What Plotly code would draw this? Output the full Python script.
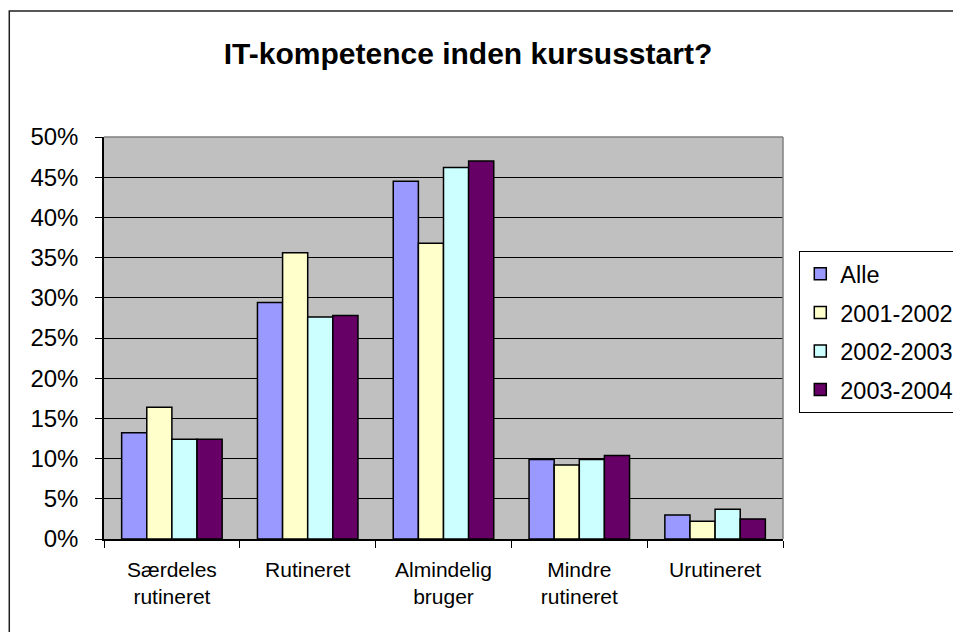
import plotly.graph_objects as go

categories = ["Særdeles<br>rutineret", "Rutineret", "Almindelig<br>bruger", "Mindre<br>rutineret", "Urutineret"]
series_names = ["Alle", "2001-2002", "2002-2003", "2003-2004"]
alle = [0.132, 0.294, 0.445, 0.099, 0.030]
y2001_2002 = [0.164, 0.356, 0.368, 0.092, 0.022]
y2002_2003 = [0.124, 0.276, 0.462, 0.099, 0.037]
y2003_2004 = [0.124, 0.278, 0.470, 0.104, 0.025]
colors = ["#9999FF", "#FFFFCC", "#CCFFFF", "#660066"]

FONT = "Liberation Sans, Arial, sans-serif"

fig = go.Figure()
for name, vals, col in zip(series_names, [alle, y2001_2002, y2002_2003, y2003_2004], colors):
    fig.add_trace(go.Bar(
        x=categories, y=vals, name=name, legendgroup=name,
        marker=dict(color=col, line=dict(color="black", width=1.5)),
    ))

# the page body adds an 8px margin, so figure coordinates are page coordinates - 8
OFF = 8
L, R, T, B = 103.5 - OFF, 782.7 - OFF, 137 - OFF, 538.7 - OFF
W, H = 961 - 2 * OFF, 640 - 2 * OFF
pw, ph = R - L, B - T

fig.update_layout(
    width=W, height=H,
    margin=dict(l=L, r=W - R, t=T, b=H - B, pad=0, autoexpand=False),
    paper_bgcolor="white",
    plot_bgcolor="#C0C0C0",
    barmode="group",
    bargap=0.26,
    bargroupgap=0,
    font=dict(family=FONT, color="black"),
    title=dict(
        text="<b>IT-kompetence inden kursusstart?</b>",
        font=dict(family=FONT, size=30, color="black"),
        x=(468 - OFF) / W, xanchor="center", xref="container",
        y=1 - (53 - OFF) / H, yanchor="middle", yref="container",
    ),
    legend=dict(
        x=(799 - OFF - L) / pw, y=(B - (251 - OFF)) / ph, xanchor="left", yanchor="top",
        bordercolor="black", borderwidth=1, bgcolor="white",
        font=dict(family=FONT, size=23.5, color="black"),
        tracegroupgap=5,
        itemclick=False,
    ),
    showlegend=True,
    xaxis=dict(
        showline=True, linecolor="black", linewidth=1.5,
        ticks="outside", tickson="boundaries", ticklen=7, tickcolor="black",
        tickfont=dict(family=FONT, size=21, color="black"),
        showgrid=False, ticklabelstandoff=11,
    ),
    yaxis=dict(
        range=[0, 0.5], dtick=0.05, tickformat=".0%",
        showline=True, linecolor="black", linewidth=1.5,
        ticks="outside", ticklen=7, tickcolor="black",
        tickfont=dict(family=FONT, size=24, color="black"),
        showgrid=True, gridcolor="black", gridwidth=1,
        zeroline=False, ticklabelstandoff=12,
    ),
    shapes=[
        dict(type="line", xref="paper", yref="paper", x0=0, x1=1, y0=1, y1=1,
             line=dict(color="#808080", width=1.5), layer="above"),
        dict(type="line", xref="paper", yref="paper", x0=1, x1=1, y0=0, y1=1,
             line=dict(color="#808080", width=1.5), layer="above"),
        dict(type="rect", xref="paper", yref="paper",
             x0=(0.75 - L) / pw, x1=(W + 20 - L) / pw,
             y0=(B - H - 20) / ph, y1=(B - (11 - OFF)) / ph,
             line=dict(color="#202020", width=1.5), layer="above"),
    ],
)

fig.write_html("out.html")
